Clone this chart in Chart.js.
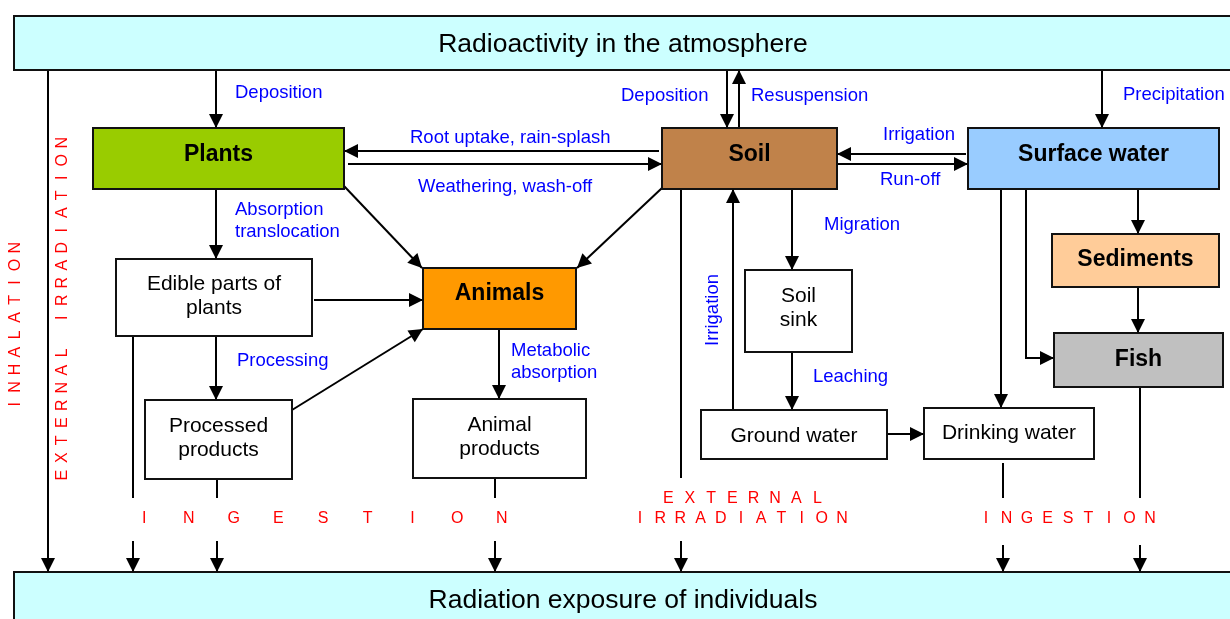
<!DOCTYPE html>
<html>
<head>
<meta charset="utf-8">
<title>Radioactivity pathways</title>
<script src="https://cdn.jsdelivr.net/npm/chart.js@4"></script>
<style>
    html, body { margin: 0; padding: 0; background: #fff; }
</style>
</head>
<body>
<canvas id="pathways" width="1230" height="619"></canvas>
<script>
// Boxes of the diagram (compartments)
const nodeNames = [
    'Radioactivity in the atmosphere', 'Radiation exposure of individuals',
    'Plants', 'Soil', 'Surface water', 'Sediments', 'Fish', 'Animals',
    'Edible parts of\nplants', 'Processed\nproducts', 'Animal\nproducts',
    'Soil\nsink', 'Ground water', 'Drinking water'
];
// box corners in diagram units [x0, y0, x1, y1]
const nodeRects = [
    [14, 16, 1232, 70], [14, 572, 1232, 624],
    [93, 128, 344, 189], [662, 128, 837, 189], [968, 128, 1219, 189],
    [1052, 234, 1219, 287], [1054, 333, 1223, 387], [423, 268, 576, 329],
    [116, 259, 312, 336], [145, 400, 292, 479], [413, 399, 586, 478],
    [745, 270, 852, 352], [701, 410, 887, 459], [924, 408, 1094, 459]
];
// y of the first text line in each box
const nodeLabelY = [44.5, 601, 154.5, 154.5, 154.5, 260, 359.5, 294, 284.5, 426, 425, 296.5, 436, 433];
const nodeFills = [
    '#ccffff', '#ccffff', '#99cc00', '#c0824a', '#99ccff', '#ffcc99', '#c0c0c0',
    '#ff9900', '#ffffff', '#ffffff', '#ffffff', '#ffffff', '#ffffff', '#ffffff'
];
const nodeBold = [false, false, true, true, true, true, true, true, false, false, false, false, false, false];

// Transfer paths: polylines, the last point gets an arrow head when flagged
const flowPaths = [
    [[216, 70], [216, 128]],
    [[727, 70], [727, 128]],
    [[739, 128], [739, 70]],
    [[1102, 70], [1102, 128]],
    [[659, 151], [344, 151]],
    [[348, 164], [662, 164]],
    [[966, 154], [837, 154]],
    [[837, 164], [968, 164]],
    [[344, 186], [422, 268]],
    [[662, 188], [577, 268]],
    [[216, 189], [216, 259]],
    [[314, 300], [423, 300]],
    [[216, 336], [216, 400]],
    [[292, 410], [423, 329]],
    [[499, 329], [499, 399]],
    [[792, 189], [792, 270]],
    [[792, 352], [792, 410]],
    [[733, 410], [733, 189]],
    [[887, 434], [924, 434]],
    [[1001, 189], [1001, 408]],
    [[1026, 189], [1026, 358], [1054, 358]],
    [[1138, 189], [1138, 234]],
    [[1138, 287], [1138, 333]],
    [[681, 189], [681, 478]],
    [[681, 541], [681, 572]],
    [[48, 70], [48, 572]],
    [[133, 336], [133, 498]],
    [[133, 541], [133, 572]],
    [[217, 479], [217, 498]],
    [[217, 541], [217, 572]],
    [[495, 478], [495, 498]],
    [[495, 541], [495, 572]],
    [[1003, 463], [1003, 498]],
    [[1003, 545], [1003, 572]],
    [[1140, 387], [1140, 498]],
    [[1140, 545], [1140, 572]]
];
const flowArrow = [
    true, true, true, true, true, true, true, true, true, true, true, true,
    true, true, true, true, true, true, true, true, true, true, true,
    false, true, true, false, true, false, true, false, true, false, true, false, true
];

// Process names (blue)
const processNames = [
    'Deposition', 'Absorption\ntranslocation', 'Processing', 'Root uptake, rain-splash',
    'Weathering, wash-off', 'Deposition', 'Resuspension', 'Precipitation', 'Irrigation',
    'Run-off', 'Migration', 'Metabolic\nabsorption', 'Leaching', 'Irrigation'
];
// [left x, first line y, rotated]
const processAt = [
    [235, 92.5, 0], [235, 209.5, 0], [237, 360.5, 0], [410, 137.5, 0],
    [418, 186.5, 0], [621, 95.5, 0], [751, 95.5, 0], [1123, 94.5, 0], [883, 134.5, 0],
    [880, 179.5, 0], [824, 224.5, 0], [511, 350.5, 0], [813, 376.5, 0], [713, 310, 1]
];

// Exposure pathways (red, letter spaced)
const exposureNames = ['INHALATION', 'EXTERNAL IRRADIATION', 'INGESTION', 'EXTERNAL', 'IRRADIATION', 'INGESTION'];
// [centre x, centre y, letter step, rotated]
const exposureAt = [
    [16, 326, 17.4, 1], [63, 309, 17.5, 1], [323, 519, 44.7, 0],
    [743, 499, 21.3, 0], [741, 519, 20.2, 0], [1068, 519, 20.5, 0]
];

const FONT = '"Liberation Sans", Arial, Helvetica, sans-serif';

function px(chart, p) {
    return [chart.scales.x.getPixelForValue(p[0]), chart.scales.y.getPixelForValue(p[1])];
}

function arrowHead(ctx, from, to) {
    const ang = Math.atan2(to[1] - from[1], to[0] - from[0]);
    const len = 14, half = 7;
    ctx.save();
    ctx.translate(to[0], to[1]);
    ctx.rotate(ang);
    ctx.beginPath();
    ctx.moveTo(0, 0);
    ctx.lineTo(-len, -half);
    ctx.lineTo(-len, half);
    ctx.closePath();
    ctx.fillStyle = '#000';
    ctx.fill();
    ctx.restore();
}

function spacedText(ctx, text, cx, cy, step, rotated) {
    ctx.save();
    ctx.translate(cx, cy);
    if (rotated) ctx.rotate(-Math.PI / 2);
    const n = text.length;
    for (let i = 0; i < n; i++) {
        ctx.fillText(text[i], (i - (n - 1) / 2) * step, 0);
    }
    ctx.restore();
}

const diagramPlugin = {
    id: 'diagram',
    afterDatasetsDraw(chart) {
        const ctx = chart.ctx;

        // compartments
        nodeNames.forEach((name, i) => {
            const r = nodeRects[i];
            const a = px(chart, [r[0], r[1]]);
            const b = px(chart, [r[2], r[3]]);
            ctx.fillStyle = nodeFills[i];
            ctx.fillRect(a[0], a[1], b[0] - a[0], b[1] - a[1]);
            ctx.lineWidth = 2;
            ctx.strokeStyle = '#111';
            ctx.strokeRect(a[0], a[1], b[0] - a[0], b[1] - a[1]);

            const big = i < 2;
            ctx.font = big ? '26.5px ' + FONT : (nodeBold[i] ? 'bold 23px ' + FONT : '21px ' + FONT);
            ctx.fillStyle = '#000';
            ctx.textAlign = 'center';
            ctx.textBaseline = 'middle';
            const cx = (a[0] + b[0]) / 2;
            const y0 = chart.scales.y.getPixelForValue(nodeLabelY[i]);
            name.split('\n').forEach((t, k) => ctx.fillText(t, cx, y0 + k * 24));
        });

        // arrow heads
        flowPaths.forEach((path, i) => {
            if (!flowArrow[i]) return;
            const p1 = px(chart, path[path.length - 2]);
            const p2 = px(chart, path[path.length - 1]);
            arrowHead(ctx, p1, p2);
        });

        // process labels
        ctx.fillStyle = '#0000ff';
        ctx.font = '18.5px ' + FONT;
        ctx.textBaseline = 'middle';
        processNames.forEach((name, i) => {
            const at = processAt[i];
            const p = px(chart, [at[0], at[1]]);
            ctx.save();
            ctx.translate(p[0], p[1]);
            if (at[2]) {
                ctx.rotate(-Math.PI / 2);
                ctx.textAlign = 'center';
            } else {
                ctx.textAlign = 'left';
            }
            name.split('\n').forEach((t, k) => ctx.fillText(t, 0, k * 22.5));
            ctx.restore();
        });

        // exposure pathways
        ctx.fillStyle = '#ff0000';
        ctx.font = '16px ' + FONT;
        ctx.textAlign = 'center';
        ctx.textBaseline = 'middle';
        exposureNames.forEach((name, i) => {
            const at = exposureAt[i];
            const p = px(chart, [at[0], at[1]]);
            spacedText(ctx, name, p[0], p[1], at[2], at[3]);
        });
    }
};

const datasets = flowPaths.map(path => ({
    data: path.map(p => ({ x: p[0], y: p[1] })),
    showLine: true,
    borderColor: '#000',
    borderWidth: 2,
    pointRadius: 0,
    tension: 0,
    fill: false,
    clip: false
}));

new Chart(document.getElementById('pathways'), {
    type: 'scatter',
    data: { datasets: datasets },
    options: {
        responsive: false,
        animation: false,
        events: [],
        layout: { padding: 0 },
        plugins: {
            legend: { display: false },
            tooltip: { enabled: false }
        },
        scales: {
            x: { type: 'linear', min: 0, max: 1230, display: false },
            y: { type: 'linear', min: 0, max: 619, reverse: true, display: false }
        }
    },
    plugins: [diagramPlugin]
});
</script>
</body>
</html>
